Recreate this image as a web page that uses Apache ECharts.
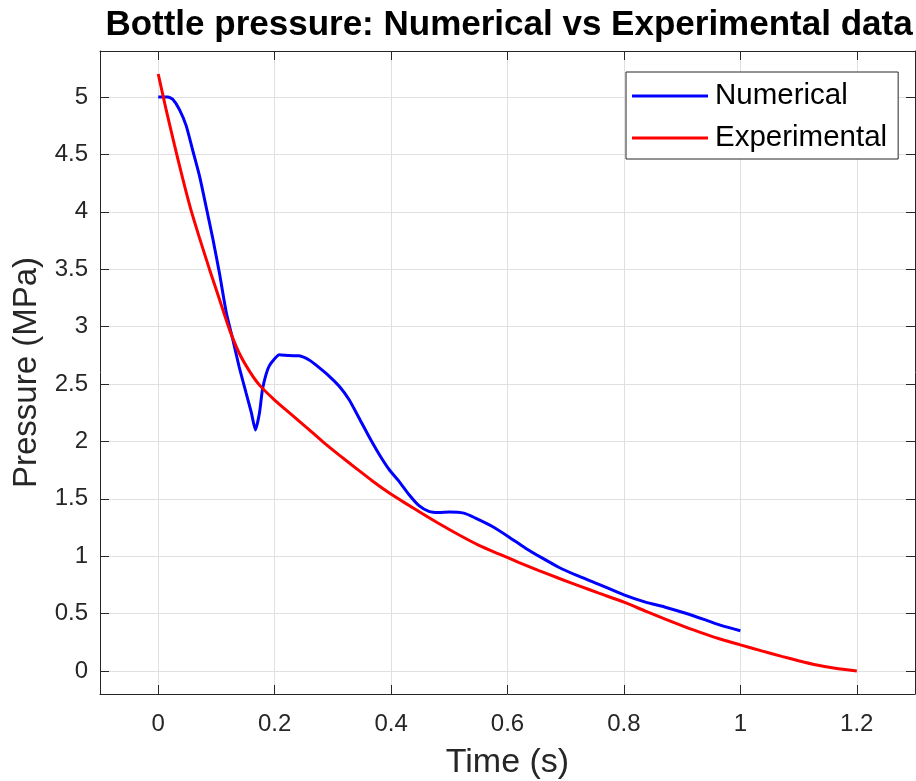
<!DOCTYPE html>
<html>
<head>
<meta charset="utf-8">
<script src="https://cdn.jsdelivr.net/npm/echarts@6/dist/echarts.min.js"></script>
<style>html,body{margin:0;padding:0;background:#fff}#c{width:916px;height:781px}</style>
</head>
<body>
<div id="c"></div>
<script>
// ---- data ----
const xTicks = [0, 0.2, 0.4, 0.6, 0.8, 1, 1.2];
const yTicks = [0, 0.5, 1, 1.5, 2, 2.5, 3, 3.5, 4, 4.5, 5];

const numT = [0, 0.0165, 0.025, 0.0365, 0.048, 0.059, 0.071, 0.082, 0.094, 0.105, 0.117, 0.128, 0.139, 0.151, 0.16, 0.167, 0.174, 0.179, 0.185, 0.191, 0.2, 0.208, 0.225, 0.242, 0.26, 0.277, 0.294, 0.311, 0.328, 0.345, 0.362, 0.38, 0.397, 0.414, 0.431, 0.448, 0.465, 0.482, 0.5, 0.525, 0.545, 0.574, 0.603, 0.631, 0.66, 0.688, 0.717, 0.757, 0.8, 0.837, 0.871, 0.906, 0.94, 0.968, 1.0];
const numP = [5.0, 5.0, 4.98, 4.89, 4.75, 4.54, 4.31, 4.05, 3.76, 3.47, 3.12, 2.89, 2.65, 2.42, 2.25, 2.10, 2.25, 2.45, 2.58, 2.66, 2.72, 2.755, 2.747, 2.745, 2.706, 2.64, 2.567, 2.48, 2.363, 2.204, 2.043, 1.884, 1.753, 1.65, 1.535, 1.44, 1.39, 1.38, 1.385, 1.375, 1.332, 1.259, 1.166, 1.07, 0.983, 0.904, 0.837, 0.755, 0.663, 0.6, 0.556, 0.503, 0.445, 0.395, 0.351];

const expT = [0, 0.014, 0.028, 0.042, 0.056, 0.071, 0.088, 0.105, 0.122, 0.139, 0.157, 0.174, 0.2, 0.225, 0.254, 0.282, 0.311, 0.34, 0.368, 0.397, 0.425, 0.454, 0.482, 0.517, 0.551, 0.585, 0.62, 0.654, 0.688, 0.723, 0.757, 0.8, 0.837, 0.871, 0.906, 0.94, 0.968, 1.0, 1.035, 1.071, 1.1, 1.129, 1.163, 1.2];
const expP = [5.2, 4.88, 4.58, 4.29, 4.02, 3.77, 3.50, 3.24, 2.98, 2.77, 2.61, 2.49, 2.36, 2.25, 2.125, 2.0, 1.88, 1.765, 1.655, 1.55, 1.46, 1.37, 1.285, 1.185, 1.095, 1.02, 0.945, 0.875, 0.808, 0.742, 0.678, 0.60, 0.522, 0.452, 0.383, 0.322, 0.275, 0.228, 0.178, 0.128, 0.09, 0.055, 0.025, 0];

const seriesNames = ['Numerical', 'Experimental'];

const FONT = 'Liberation Sans, Arial, Helvetica, sans-serif';
const AX = '#262626';
const GRIDC = '#e0e0e0';

const zip = (a, b) => a.map((v, i) => [v, b[i]]);

const chart = echarts.init(document.getElementById('c'), null, {renderer: 'canvas'});

const baseX = {
  type: 'value', min: -0.1, max: 1.3,
  axisLine: {show: true, onZero: false, lineStyle: {color: AX, width: 1}},
};
const baseY = {
  type: 'value', min: -0.2, max: 5.4,
  axisLine: {show: true, onZero: false, lineStyle: {color: AX, width: 1}},
};

chart.setOption({
  animation: false,
  backgroundColor: '#fff',
  title: {
    text: 'Bottle pressure: Numerical vs Experimental data',
    left: 509, top: 8, textAlign: 'center', padding: 0,
    textStyle: {fontFamily: FONT, fontSize: 35, fontWeight: 'bold', color: '#000'}
  },
  legend: {
    data: seriesNames,
    left: 626, top: 72, orient: 'vertical',
    icon: 'rect', itemWidth: 76, itemHeight: 3, itemGap: 10,
    padding: [8, 11, 5, 6],
    borderColor: AX, borderWidth: 1, backgroundColor: '#fff',
    textStyle: {fontFamily: FONT, fontSize: 29.5, color: '#000', lineHeight: 32, padding: [0, 0, 0, 2]}
  },
  grid: {left: 100, top: 51, right: 1, bottom: 87, containLabel: false, outerBoundsMode: 'none'},
  xAxis: [
    Object.assign({}, baseX, {
      position: 'bottom',
      name: 'Time (s)', nameLocation: 'middle', nameGap: 52,
      nameTextStyle: {fontFamily: FONT, fontSize: 34, color: AX},
      axisTick: {show: true, inside: true, length: 9, lineStyle: {color: AX}, customValues: xTicks},
      axisLabel: {show: true, margin: 18, fontFamily: FONT, fontSize: 24, color: AX, customValues: xTicks},
      splitLine: {show: true, lineStyle: {color: GRIDC, width: 1}}
    }),
    Object.assign({}, baseX, {
      position: 'top',
      axisTick: {show: true, inside: true, length: 9, lineStyle: {color: AX}, customValues: xTicks},
      axisLabel: {show: false},
      splitLine: {show: false}
    })
  ],
  yAxis: [
    Object.assign({}, baseY, {
      position: 'left',
      name: 'Pressure (MPa)', nameLocation: 'middle', nameGap: 54,
      nameTextStyle: {fontFamily: FONT, fontSize: 33, color: AX},
      axisTick: {show: true, inside: true, length: 9, lineStyle: {color: AX}, customValues: yTicks},
      axisLabel: {show: true, margin: 12, fontFamily: FONT, fontSize: 24, color: AX, customValues: yTicks},
      splitLine: {show: true, lineStyle: {color: GRIDC, width: 1}}
    }),
    Object.assign({}, baseY, {
      position: 'right',
      axisTick: {show: true, inside: true, length: 9, lineStyle: {color: AX}, customValues: yTicks},
      axisLabel: {show: false},
      splitLine: {show: false}
    })
  ],
  series: [
    {
      name: seriesNames[0], type: 'line', data: zip(numT, numP),
      xAxisIndex: 0, yAxisIndex: 0,
      showSymbol: false, symbol: 'none', smooth: 0.2,
      color: '#0000ff', lineStyle: {color: '#0000ff', width: 3}
    },
    {
      name: seriesNames[1], type: 'line', data: zip(expT, expP),
      xAxisIndex: 0, yAxisIndex: 0,
      showSymbol: false, symbol: 'none', smooth: 0.2,
      color: '#ff0000', lineStyle: {color: '#ff0000', width: 3}
    }
  ]
});
</script>
</body>
</html>
